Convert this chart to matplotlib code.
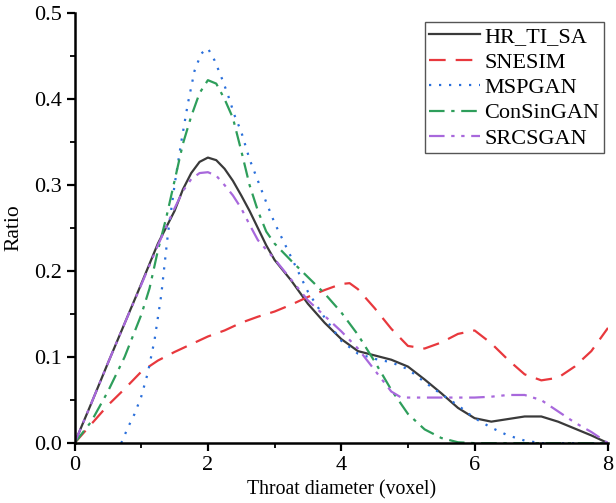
import numpy as np
import matplotlib
matplotlib.use("Agg")
import matplotlib.pyplot as plt
from matplotlib.ticker import MultipleLocator

plt.rcParams['font.family'] = ['Liberation Serif', 'DejaVu Serif']

# HR_TI_SA
x_hr = [0, 0.25, 0.5, 0.75, 1, 1.25, 1.5, 1.625, 1.75, 1.875, 2, 2.125, 2.25, 2.375, 2.5,
        2.625, 2.75, 2.875, 3, 3.25, 3.5, 3.75, 4, 4.25, 4.5, 4.75, 5, 5.25, 5.5, 5.75, 6,
        6.25, 6.5, 6.75, 7, 7.25, 7.5, 7.75, 8]
y_hr = [0, 0.046, 0.093, 0.139, 0.185, 0.232, 0.270, 0.295, 0.314, 0.327, 0.332, 0.329, 0.319,
        0.305, 0.288, 0.270, 0.250, 0.230, 0.213, 0.189, 0.162, 0.140, 0.121, 0.107, 0.102,
        0.097, 0.089, 0.074, 0.058, 0.041, 0.029, 0.025, 0.028, 0.031, 0.031, 0.025, 0.017,
        0.009, 0]

# SNESIM
x_sn = [0, 0.25, 0.5, 0.75, 1, 1.25, 1.5, 1.75, 2, 2.25, 2.5, 2.75, 3, 3.25, 3.5, 3.75, 4,
        4.125, 4.25, 4.5, 4.75, 5, 5.25, 5.5, 5.75, 6, 6.25, 6.5, 6.75, 7, 7.25, 7.5, 7.75, 8]
y_sn = [0, 0.022, 0.044, 0.063, 0.083, 0.096, 0.106, 0.115, 0.124, 0.131, 0.140, 0.147, 0.153,
        0.161, 0.170, 0.178, 0.185, 0.186, 0.179, 0.157, 0.133, 0.113, 0.110, 0.117, 0.127,
        0.131, 0.116, 0.097, 0.080, 0.073, 0.076, 0.089, 0.107, 0.134]

# MSPGAN
x_ms = [0.7, 0.8, 0.9, 1.0, 1.1, 1.2, 1.3, 1.4, 1.5, 1.6, 1.7, 1.8, 1.9, 2.0, 2.1, 2.2, 2.3,
        2.4, 2.5, 2.625, 2.75, 2.875, 3.0, 3.25, 3.5, 3.75, 4.0, 4.25, 4.5, 4.75, 5.0, 5.25,
        5.5, 5.75, 6.0, 6.25, 6.5, 6.75, 7.0, 7.5, 8.0]
y_ms = [0, 0.018, 0.034, 0.054, 0.082, 0.120, 0.172, 0.243, 0.300, 0.350, 0.395, 0.433, 0.453,
        0.459, 0.445, 0.426, 0.405, 0.381, 0.362, 0.330, 0.305, 0.280, 0.256, 0.216, 0.176,
        0.146, 0.119, 0.104, 0.098, 0.094, 0.086, 0.071, 0.057, 0.044, 0.029, 0.018, 0.009,
        0.003, 0, 0, 0]

# ConSinGAN
x_cs = [0, 0.25, 0.5, 0.75, 1, 1.125, 1.25, 1.375, 1.5, 1.625, 1.75, 1.875, 2, 2.125, 2.25,
        2.375, 2.5, 2.625, 2.75, 2.875, 3, 3.25, 3.5, 3.75, 4, 4.25, 4.5, 4.75, 5, 5.25, 5.5,
        5.75, 6, 6.5, 7, 7.5, 8]
y_cs = [0, 0.025, 0.060, 0.100, 0.149, 0.180, 0.224, 0.262, 0.305, 0.348, 0.380, 0.407, 0.422,
        0.418, 0.400, 0.378, 0.340, 0.300, 0.270, 0.246, 0.232, 0.212, 0.193, 0.174, 0.152,
        0.126, 0.095, 0.062, 0.034, 0.016, 0.006, 0.001, 0, 0, 0, 0, 0]

# SRCSGAN
x_sr = [0, 0.25, 0.5, 0.75, 1, 1.25, 1.5, 1.625, 1.75, 1.875, 2, 2.125, 2.25, 2.375, 2.5,
        2.625, 2.75, 3, 3.25, 3.5, 3.75, 4, 4.25, 4.5, 4.75, 4.9, 5, 5.5, 6, 6.25, 6.5, 6.75,
        7, 7.25, 7.5, 7.75, 8]
y_sr = [0, 0.046, 0.093, 0.139, 0.184, 0.230, 0.273, 0.293, 0.307, 0.314, 0.315, 0.311, 0.300,
        0.288, 0.273, 0.254, 0.236, 0.214, 0.190, 0.166, 0.148, 0.130, 0.110, 0.085, 0.060,
        0.053, 0.053, 0.053, 0.053, 0.054, 0.056, 0.056, 0.050, 0.037, 0.024, 0.013, 0]

fig = plt.figure(figsize=(6.16, 5.03), dpi=100)
ax = fig.add_axes([0.121, 0.119, 0.866, 0.855])

lw = 1.6
ax.plot(x_hr, y_hr, color='#3a3a3a', lw=lw, ls='-', label='HR_TI_SA')
ax.plot(x_sn, y_sn, color='#e8383d', lw=lw, ls=(0, (7.5, 4.5)), label='SNESIM')
ax.plot(x_ms, y_ms, color='#2a6fdb', lw=lw, ls=(0, (1, 3.5)), label='MSPGAN')
ax.plot(x_cs, y_cs, color='#2e9e5b', lw=lw, ls=(0, (7, 3, 1.5, 3)), label='ConSinGAN')
ax.plot(x_sr, y_sr, color='#a868dc', lw=lw, ls=(0, (7, 3, 1.5, 3, 1.5, 3)), label='SRCSGAN')

ax.set_xlim(0, 8)
ax.set_ylim(0, 0.5)
ax.xaxis.set_major_locator(MultipleLocator(2))
ax.xaxis.set_minor_locator(MultipleLocator(1))
ax.yaxis.set_major_locator(MultipleLocator(0.1))
ax.yaxis.set_minor_locator(MultipleLocator(0.05))
ax.yaxis.set_major_formatter(plt.FormatStrFormatter('%.1f'))

for side in ['top', 'right']:
    ax.spines[side].set_visible(False)
for side in ['left', 'bottom']:
    ax.spines[side].set_linewidth(1.8)
ax.tick_params(which='major', direction='out', length=6, width=1.6, labelsize=16, pad=3)
ax.tick_params(which='minor', direction='out', length=3.5, width=1.3)

ax.set_xlabel('Throat diameter (voxel)', fontsize=14.2, labelpad=4)
ax.set_ylabel('Ratio', fontsize=15.5, labelpad=8)

leg = ax.legend(loc='upper right', bbox_to_anchor=(0.9925, 0.979), fontsize=16,
                handlelength=2.3, handletextpad=0.2, labelspacing=0.22,
                borderpad=0.2, borderaxespad=0.0, fancybox=False, framealpha=1)
leg.get_frame().set_edgecolor('#555555')
leg.get_frame().set_linewidth(1.0)

fig.savefig('out.png', dpi=100)
